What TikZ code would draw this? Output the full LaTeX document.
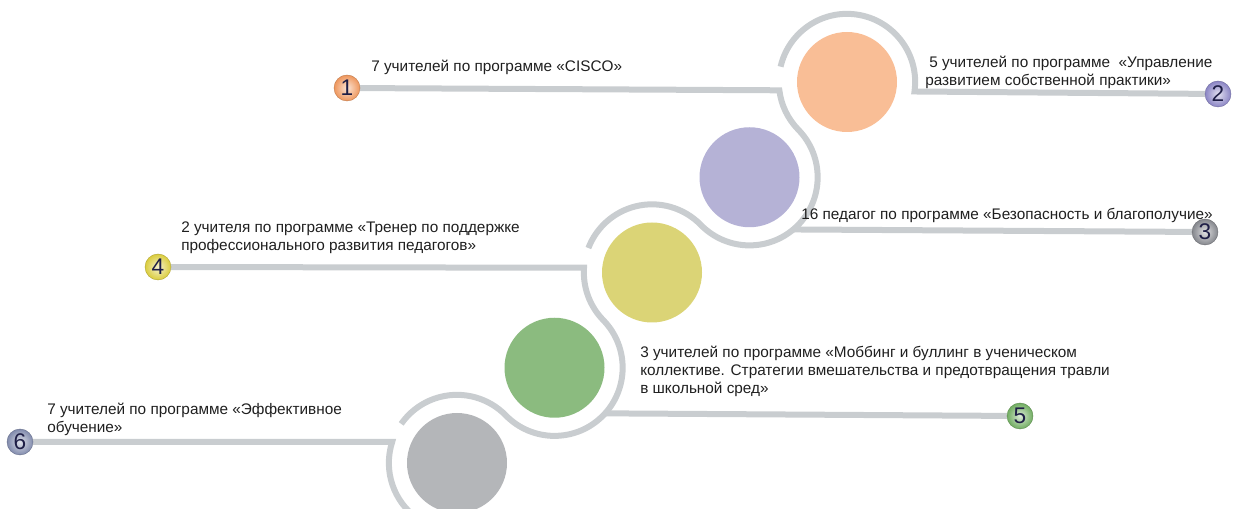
\documentclass[tikz,border=0pt]{standalone}
\usepackage{fontspec}
\setmainfont{Liberation Sans}
\usetikzlibrary{calc}
\pgfdeclarelayer{background}
\pgfsetlayers{background,main}
\definecolor{trackgray}{RGB}{201,205,208}
\definecolor{badgeink}{RGB}{30,30,70}
\definecolor{discorange}{RGB}{249,190,150}
\definecolor{discpurple}{RGB}{181,178,214}
\definecolor{discyellow}{RGB}{219,212,118}
\definecolor{discgreen}{RGB}{139,187,127}
\definecolor{discgray}{RGB}{180,182,185}
\definecolor{badgeorange}{RGB}{238,150,92}
\definecolor{badgepurple}{RGB}{138,132,196}
\definecolor{badgegray}{RGB}{132,134,140}
\definecolor{badgeyellow}{RGB}{218,204,60}
\definecolor{badgegreen}{RGB}{112,172,96}
\definecolor{badgeslate}{RGB}{128,138,172}
\def\tr{68.15}

\begin{document}
\begin{tikzpicture}[x=0.75pt,y=0.75pt,
	disc/.style={circle,minimum size=75pt,inner sep=0pt},
	badge/.style={circle,minimum size=19.5pt,inner sep=0pt,shade,inner color=#1!25!white,outer color=#1,draw=#1!80!black,line width=0.3pt,font=\fontsize{17}{17}\selectfont,text=badgeink},
	track/.style={draw=trackgray,line width=4.5pt},
	lbl/.style={anchor=base west,align=left,inner sep=0pt,font=\fontsize{11.5}{13.5}\selectfont,text=black!88}]
	\useasboundingbox (0,0) rectangle (1233,-509);
	\node[disc,fill=discorange] (c1) at (847,-82) {};
	\node[disc,fill=discpurple] (c2) at (749.5,-177.25) {};
	\node[disc,fill=discyellow] (c3) at (652,-272.5) {};
	\node[disc,fill=discgreen] (c4) at (554.5,-367.75) {};
	\node[disc,fill=discgray] (c5) at (457,-463) {};
	
	\coordinate (j1) at ($(c1)+(187:\tr)$);
	\coordinate (j2) at ($(c1)+(-8:\tr)$);
	\coordinate (j3) at ($(c2)+(-50:\tr)$);
	\coordinate (j4) at ($(c3)+(176:\tr)$);
	\coordinate (j5) at ($(c4)+(-42:\tr)$);
	\coordinate (j6) at ($(c5)+(162:\tr)$);
	
	\node[badge=badgeorange] (b1) at (347,-88) {1};
	\node[badge=badgepurple] (b2) at (1218,-94) {2};
	\node[badge=badgegray] (b3) at (1205,-232) {3};
	\node[badge=badgeyellow] (b4) at (158,-267) {4};
	\node[badge=badgegreen] (b5) at (1020,-416) {5};
	\node[badge=badgeslate] (b6) at (20,-442) {6};
	
	\begin{pgfonlayer}{background}
	\draw[track] (b2) -- (j2) arc[start angle=-8,end angle=167,radius=\tr];
	\draw[track] (b1) -- (j1) arc[start angle=187,end angle=224.33,radius=\tr]
		arc[start angle=44.33,end angle=-135.67,radius=\tr]
		arc[start angle=44.33,end angle=159,radius=\tr];
	\draw[track] (j3) -- (b3);
	\draw[track] (b4) -- (j4) arc[start angle=176,end angle=224.33,radius=\tr]
		arc[start angle=44.33,end angle=-135.67,radius=\tr]
		arc[start angle=44.33,end angle=145,radius=\tr];
	\draw[track] (j5) -- (b5);
	\draw[track] (b6) -- (j6) arc[start angle=162,end angle=235,radius=\tr];
	\end{pgfonlayer}
	
	\node[lbl] (t1) at (371,-72) {7 учителей по программе «CISCO»};
	\node[lbl] (t2) at (925,-86) {\hspace{3pt}5 учителей по программе\ \ «Управление\\развитием собственной практики»};
	\node[lbl] (t3) at (801,-220) {16 педагог по программе «Безопасность и благополучие»};
	\node[lbl] (t4) at (181,-251) {2 учителя по программе «Тренер по поддержке\\профессионального развития педагогов»};
	\node[lbl] (t5) at (640,-394) {3 учителей по программе «Моббинг и буллинг в ученическом\\коллективе. Стратегии вмешательства и предотвращения травли\\в школьной сред»};
	\node[lbl] (t6) at (47,-433) {7 учителей по программе «Эффективное\\обучение»};
\end{tikzpicture}
\end{document}
